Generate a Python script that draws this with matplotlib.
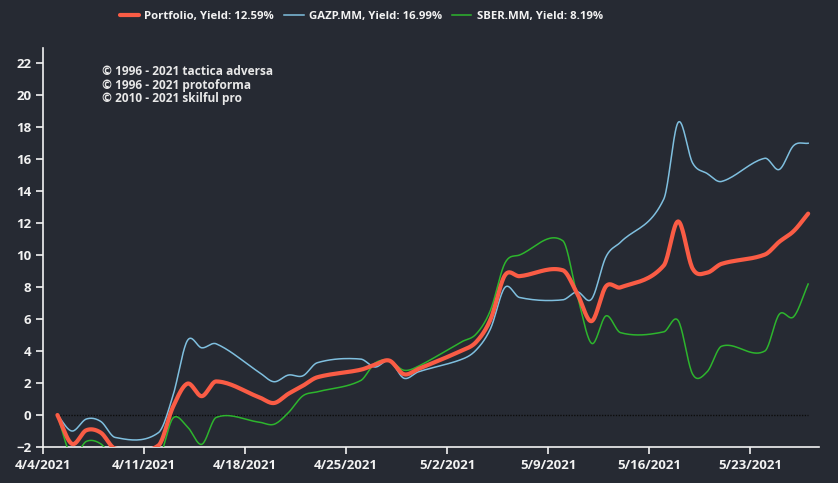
import numpy as np
import matplotlib
matplotlib.use('Agg')
import matplotlib.pyplot as plt
import matplotlib.dates as mdates

dates = ['2021-04-05', '2021-04-06', '2021-04-07', '2021-04-08', '2021-04-09',
         '2021-04-12', '2021-04-13', '2021-04-14', '2021-04-15', '2021-04-16',
         '2021-04-19', '2021-04-20', '2021-04-21', '2021-04-22', '2021-04-23',
         '2021-04-26', '2021-04-27', '2021-04-28', '2021-04-29', '2021-04-30',
         '2021-05-03', '2021-05-04', '2021-05-05', '2021-05-06', '2021-05-07',
         '2021-05-10', '2021-05-11', '2021-05-12', '2021-05-13', '2021-05-14',
         '2021-05-17', '2021-05-18', '2021-05-19', '2021-05-20', '2021-05-21',
         '2021-05-24', '2021-05-25', '2021-05-26', '2021-05-27']

portfolio = [0, -1.8, -0.95, -1.1, -2.1, -1.9, 0.5, 1.96, 1.18, 2.1,
             1.1, 0.75, 1.33, 1.83, 2.36, 2.83, 3.15, 3.4, 2.55, 2.88,
             4.03, 4.56, 5.98, 8.74, 8.68, 9.05, 7.6, 5.87, 8.05, 7.98,
             9.35, 12.1, 9.15, 8.9, 9.45, 10.03, 10.83, 11.5, 12.59]
gazp = [0, -1.0, -0.25, -0.4, -1.4, -1.1, 1.2, 4.65, 4.2, 4.45,
        2.65, 2.08, 2.5, 2.45, 3.27, 3.5, 3.0, 3.4, 2.3, 2.7,
        3.48, 4.06, 5.4, 7.98, 7.35, 7.2, 7.7, 7.25, 9.9, 10.8,
        13.5, 18.3, 15.75, 15.1, 14.6, 16.05, 15.35, 16.85, 16.99]
sber = [0, -2.6, -1.65, -1.8, -2.8, -2.7, -0.2, -0.73, -1.83, -0.15,
        -0.45, -0.58, 0.15, 1.2, 1.45, 2.15, 3.25, 3.4, 2.8, 3.05,
        4.58, 5.06, 6.56, 9.5, 10.0, 10.9, 7.5, 4.48, 6.2, 5.15,
        5.2, 5.9, 2.55, 2.7, 4.3, 4.0, 6.3, 6.15, 8.19]

labels = ['Portfolio, Yield: 12.59%', 'GAZP.MM, Yield: 16.99%', 'SBER.MM, Yield: 8.19%']
credits = ['© 1996 - 2021 tactica adversa', '© 1996 - 2021 protoforma', '© 2010 - 2021 skilful pro']

BG = '#262a33'
FG = '#f2f2f2'


def smooth(x, y, n=20):
    # cardinal (catmull-rom like) hermite curve through the points
    x = np.asarray(x, float)
    y = np.asarray(y, float)
    m = np.zeros_like(y)
    m[1:-1] = (y[2:] - y[:-2]) / (x[2:] - x[:-2])
    m[0] = (y[1] - y[0]) / (x[1] - x[0])
    m[-1] = (y[-1] - y[-2]) / (x[-1] - x[-2])
    xs, ys = [], []
    for i in range(len(x) - 1):
        h = x[i + 1] - x[i]
        t = np.linspace(0, 1, n, endpoint=False)
        h00 = 2 * t**3 - 3 * t**2 + 1
        h10 = t**3 - 2 * t**2 + t
        h01 = -2 * t**3 + 3 * t**2
        h11 = t**3 - t**2
        xs.append(x[i] + t * h)
        ys.append(h00 * y[i] + h10 * h * m[i] + h01 * y[i + 1] + h11 * h * m[i + 1])
    xs.append([x[-1]])
    ys.append([y[-1]])
    return np.concatenate(xs), np.concatenate(ys)


plt.rcParams['font.family'] = ['Open Sans', 'DejaVu Sans']
x = mdates.datestr2num(dates)

fig = plt.figure(figsize=(8.38, 4.83), dpi=100, facecolor=BG)
ax = fig.add_axes([0.0513, 0.0745, 0.926, 0.826], facecolor=BG)

ax.plot([x[0], x[-1]], [0, 0], color='#0c0c0c', lw=1, ls=(0, (1, 1)), zorder=1)

sx, sy = smooth(x, gazp)
ax.plot(sx, sy, color='#7fbfdf', lw=1.1, label=labels[1], zorder=3)
sx, sy = smooth(x, sber)
ax.plot(sx, sy, color='#2db52d', lw=1.1, label=labels[2], zorder=3)
sx, sy = smooth(x, portfolio)
ax.plot(sx, sy, color='#fa5c45', lw=3, label=labels[0], zorder=4, solid_capstyle='round')

x0 = mdates.datestr2num('2021-04-04')
ax.set_xlim(x0, x0 + 53.75)
ax.set_ylim(-2, 22.94)
ax.set_yticks(np.arange(-2, 23, 2))
ticks = mdates.datestr2num(['2021-04-04', '2021-04-11', '2021-04-18', '2021-04-25',
                            '2021-05-02', '2021-05-09', '2021-05-16', '2021-05-23'])
ax.set_xticks(ticks)
ax.set_xticklabels(['4/4/2021', '4/11/2021', '4/18/2021', '4/25/2021',
                    '5/2/2021', '5/9/2021', '5/16/2021', '5/23/2021'])

for s in ['top', 'right']:
    ax.spines[s].set_visible(False)
for s in ['left', 'bottom']:
    ax.spines[s].set_color(FG)
    ax.spines[s].set_linewidth(1.2)
ax.tick_params(colors=FG, length=5, width=1.2, labelsize=9.5)
for t in ax.get_xticklabels() + ax.get_yticklabels():
    t.set_fontweight('bold')

for i, c in enumerate(credits):
    ax.text(0.076, 0.94 - i * 0.0326, c, transform=ax.transAxes, color='#e8e8e8',
            fontsize=8.6, fontweight='bold', va='center', ha='left')

h, l = ax.get_legend_handles_labels()
order = [2, 0, 1]
leg = fig.legend([h[i] for i in order], [l[i] for i in order], loc='center',
                 bbox_to_anchor=(0.431, 0.965), ncol=3, frameon=False,
                 fontsize=8.2, handlelength=1.7, columnspacing=0.9, handletextpad=0.45)
for t in leg.get_texts():
    t.set_color(FG)
    t.set_fontweight('bold')

fig.savefig('out.png', dpi=100, facecolor=BG)
